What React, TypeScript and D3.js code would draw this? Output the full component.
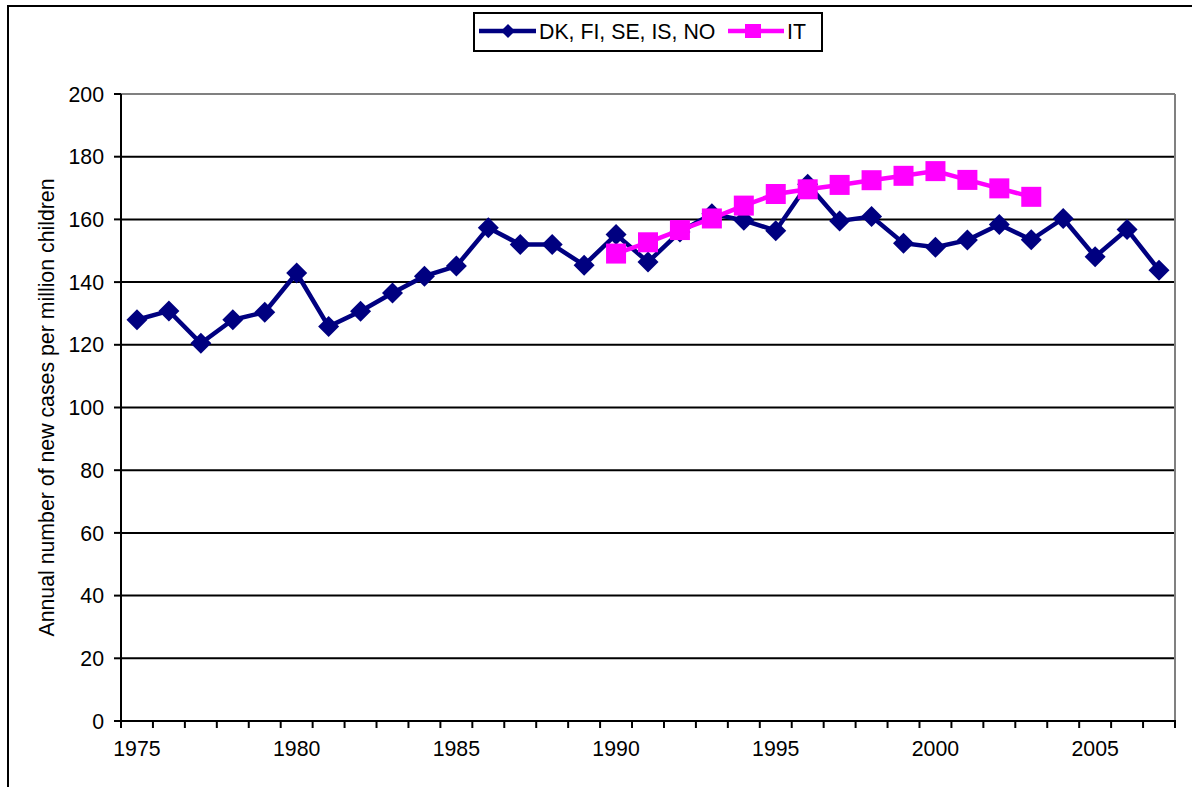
import React from "react";
import * as d3 from "d3";

const years: number[] = [];
for (let y = 1975; y <= 2007; y++) years.push(y);

const nordicYears = [1975,1976,1977,1978,1979,1980,1981,1982,1983,1984,1985,1986,1987,1988,1989,1990,1991,1992,1993,1994,1995,1996,1997,1998,1999,2000,2001,2002,2003,2004,2005,2006,2007];
const nordicValues = [128,130.8,120.5,128,130.4,142.9,125.8,130.7,136.5,141.9,145.1,157.3,152,152,145.4,155.2,146.4,156,161.8,159.7,156.4,171.2,159.5,160.9,152.4,151.1,153.4,158.4,153.5,160.3,148.1,156.8,143.8];

const itYears = [1990,1991,1992,1993,1994,1995,1996,1997,1998,1999,2000,2001,2002,2003];
const itValues = [149.1,152.7,156.6,160.3,164.4,168.1,169.6,171,172.5,173.9,175.4,172.6,169.9,167.2];

const yTicks = [0,20,40,60,80,100,120,140,160,180,200];
const xLabelYears = [1975,1980,1985,1990,1995,2000,2005];

const seriesNames = ["DK, FI, SE, IS, NO", "IT"];
const NAVY = "#000080";
const PINK = "#FF00FF";
const FONT = "'Liberation Sans', Arial, sans-serif";
const FS = 21.3;

export default function App() {
  const W = 1192, H = 787;
  const left = 121, right = 1175, top = 94, bottom = 721;

  const x = d3.scaleBand<number>().domain(years).range([left, right]).paddingInner(0).paddingOuter(0);
  const cx = (yr: number) => (x(yr) as number) + x.bandwidth() / 2;
  const y = d3.scaleLinear().domain([0, 200]).range([bottom, top]);

  const nordic = nordicYears.map((yr, i) => ({ yr, v: nordicValues[i] }));
  const it = itYears.map((yr, i) => ({ yr, v: itValues[i] }));

  const line = d3.line<{ yr: number; v: number }>().x(d => cx(d.yr)).y(d => y(d.v));

  const diamond = (px: number, py: number, r: number) =>
    `M${px},${py - r}L${px + r},${py}L${px},${py + r}L${px - r},${py}Z`;

  const tickXs = years.map(yr => x(yr) as number).concat([right]);

  return (
    <svg width={W} height={H} style={{ position: "absolute", left: 0, top: 0, background: "#fff" }}>
      <rect x={0} y={0} width={W} height={H} fill="#fff" />
      {/* outer frame */}
      <rect x={8} y={6} width={W + 20} height={H + 20} fill="none" stroke="#000" strokeWidth={2} />

      {/* gridlines */}
      {yTicks.filter(t => t > 0 && t < 200).map(t => (
        <line key={t} x1={left} x2={right} y1={y(t)} y2={y(t)} stroke="#000" strokeWidth={2} />
      ))}
      {/* plot border top and right (gray) */}
      <line x1={left} x2={right} y1={y(200)} y2={y(200)} stroke="#808080" strokeWidth={2} />
      <line x1={right} x2={right} y1={top} y2={bottom} stroke="#808080" strokeWidth={2} />

      {/* axes */}
      <line x1={left} x2={left} y1={top} y2={bottom} stroke="#000" strokeWidth={2} />
      <line x1={left - 1} x2={right + 1} y1={bottom} y2={bottom} stroke="#000" strokeWidth={2} />
      {yTicks.map(t => (
        <g key={t}>
          <line x1={left - 7} x2={left} y1={y(t)} y2={y(t)} stroke="#000" strokeWidth={2} />
          <text x={104} y={y(t)} dy="0.36em" textAnchor="end" fontFamily={FONT} fontSize={FS} fill="#000">{t}</text>
        </g>
      ))}
      {tickXs.map((tx, i) => (
        <line key={i} x1={tx} x2={tx} y1={bottom} y2={bottom + 7} stroke="#000" strokeWidth={2} />
      ))}
      {xLabelYears.map(yr => (
        <text key={yr} x={cx(yr)} y={756} textAnchor="middle" fontFamily={FONT} fontSize={FS} fill="#000">{yr}</text>
      ))}

      {/* y axis title */}
      <text transform={`translate(54,${(top + bottom) / 2}) rotate(-90)`} textAnchor="middle" fontFamily={FONT} fontSize={FS} fill="#000">
        Annual number of new cases per million children
      </text>

      {/* Nordic series */}
      <path d={line(nordic) || ""} fill="none" stroke={NAVY} strokeWidth={4.5} strokeLinejoin="miter" />
      {nordic.map(d => (
        <path key={d.yr} d={diamond(cx(d.yr), y(d.v), 10.5)} fill={NAVY} />
      ))}

      {/* IT series */}
      <path d={line(it) || ""} fill="none" stroke={PINK} strokeWidth={4.5} />
      {it.map(d => (
        <rect key={d.yr} x={cx(d.yr) - 10} y={y(d.v) - 10} width={20} height={20} fill={PINK} />
      ))}

      {/* legend */}
      <rect x={474} y={13} width={348} height={38} fill="#fff" stroke="#000" strokeWidth={2} />
      <line x1={479} x2={536} y1={31} y2={31} stroke={NAVY} strokeWidth={4.5} />
      <path d={diamond(508, 31, 7)} fill={NAVY} />
      <text x={539} y={38.5} fontFamily={FONT} fontSize={FS} fill="#000">{seriesNames[0]}</text>
      <line x1={728} x2={784} y1={31} y2={31} stroke={PINK} strokeWidth={4.5} />
      <rect x={745} y={24} width={16} height={14} fill={PINK} />
      <text x={787} y={38.5} fontFamily={FONT} fontSize={FS} fill="#000">{seriesNames[1]}</text>
    </svg>
  );
}
